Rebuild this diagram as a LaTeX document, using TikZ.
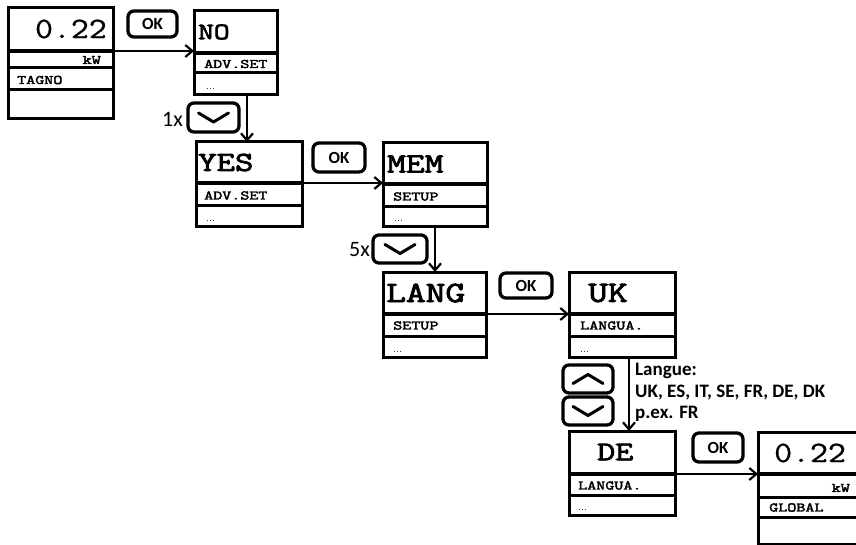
\documentclass[tikz,border=0pt]{standalone}
\usepackage{fontspec}
\usetikzlibrary{arrows.meta}
\newfontfamily\monob[FakeStretch=1.3,FakeBold=3]{Latin Modern Mono}
\newfontfamily\monos[FakeStretch=1.35,FakeBold=3]{Latin Modern Mono}
\newfontfamily\monor[FakeStretch=1.18,FakeBold=1]{Latin Modern Mono}
\newfontfamily\carl{Carlito}
\newfontfamily\carlb{Carlito Bold}
\newcommand\fsz[1]{\fontsize{#1}{#1}\selectfont}
\tikzset{
  cell/.style={draw, line width=3pt, anchor=north west, inner sep=0pt, outer sep=0pt},
  small/.style={anchor=west, inner sep=0pt, font=\monos\fsz{13}},
  dots/.style={anchor=base west, inner sep=0pt, font=\fsz{11}},
  ttl/.style={anchor=west, inner sep=0pt},
  big/.style={inner sep=0pt, font=\monor\fsz{29.5}},
  btn/.style={draw, line width=3.3pt, rounded corners=6pt, inner sep=0pt, outer sep=0pt},
  oktxt/.style={font=\carlb\fsz{17}},
  chev/.style={line width=3pt, line cap=round, line join=round},
  arr/.style={line width=2.2pt, -{Straight Barb[length=7pt,width=12pt,line width=2.2pt]}},
  sep/.style={line width=4.5pt},
}
\begin{document}
\begin{tikzpicture}[x=1pt,y=-1pt]
\useasboundingbox (0,0) rectangle (856,545);
% ---- box 1
\node[cell, minimum width=105pt, minimum height=43pt] (d1a) at (8,8) {};
\node[cell, minimum width=105pt, minimum height=17pt] (d1b) at (8,51) {};
\node[cell, minimum width=105pt, minimum height=22pt] (d1c) at (8,68) {};
\node[cell, minimum width=105pt, minimum height=29pt] (d1d) at (8,90) {};
\draw[sep] (d1a.south west) -- (d1a.south east);
\node[big, anchor=east] (d1v) at (107,29) {0.22};
\node[small, anchor=east] (d1u) at (101,60) {kW};
\node[small] (d1t) at (17,80) {TAGNO};
% ---- NO
\node[cell, minimum width=83pt, minimum height=42pt] (noa) at (194,11) {};
\node[cell, minimum width=83pt, minimum height=20pt] (nob) at (194,53) {};
\node[cell, minimum width=83pt, minimum height=22pt] (noc) at (194,73) {};
\draw[sep] (noa.south west) -- (noa.south east);
\node[ttl, font=\monob\fsz{23.5}] (not) at (198,32) {NO};
\node[small] (nos) at (204,64) {ADV.SET};
\node[dots] (nod) at (206,90) {...};
% ---- YES
\node[cell, minimum width=106pt, minimum height=41pt] (yesa) at (196,142) {};
\node[cell, minimum width=106pt, minimum height=23pt] (yesb) at (196,183) {};
\node[cell, minimum width=106pt, minimum height=21pt] (yesc) at (196,206) {};
\draw[sep] (yesa.south west) -- (yesa.south east);
\node[ttl, font=\monob\fsz{27.5}] (yest) at (198,162.5) {YES};
\node[small] (yess) at (204,195.5) {ADV.SET};
\node[dots] (yesd) at (206,222) {...};
% ---- MEM
\node[cell, minimum width=104pt, minimum height=41pt] (mema) at (383,143) {};
\node[cell, minimum width=104pt, minimum height=23pt] (memb) at (383,184) {};
\node[cell, minimum width=104pt, minimum height=20pt] (memc) at (383,207) {};
\draw[sep] (mema.south west) -- (mema.south east);
\node[ttl, font=\monob\fsz{28}] (memt) at (387,164) {MEM};
\node[small] (mems) at (393,196.5) {SETUP};
\node[dots] (memd) at (394,222) {...};
% ---- LANG
\node[cell, minimum width=103pt, minimum height=42pt] (langa) at (383,272) {};
\node[cell, minimum width=103pt, minimum height=22pt] (langb) at (383,314) {};
\node[cell, minimum width=103pt, minimum height=21pt] (langc) at (383,336) {};
\draw[sep] (langa.south west) -- (langa.south east);
\node[ttl, font=\monob\fsz{29.5}] (langt) at (386,293) {LANG};
\node[small] (langs) at (393,325.5) {SETUP};
\node[dots] (langd) at (393,352) {...};
% ---- UK
\node[cell, minimum width=106pt, minimum height=42pt] (uka) at (569,272) {};
\node[cell, minimum width=106pt, minimum height=22pt] (ukb) at (569,314) {};
\node[cell, minimum width=106pt, minimum height=21pt] (ukc) at (569,336) {};
\draw[sep] (uka.south west) -- (uka.south east);
\node[ttl, font=\monob\fsz{29.5}] (ukt) at (588,293) {UK};
\node[small] (uks) at (580,325.5) {LANGUA.};
\node[dots] (ukd) at (580,352) {...};
% ---- DE
\node[cell, minimum width=106pt, minimum height=43pt] (dea) at (569,431) {};
\node[cell, minimum width=106pt, minimum height=21pt] (deb) at (569,474) {};
\node[cell, minimum width=106pt, minimum height=20pt] (dec) at (569,495) {};
\draw[sep] (dea.south west) -- (dea.south east);
\node[ttl, font=\monob\fsz{27}] (det) at (597,452) {DE};
\node[small] (des) at (578,485.5) {LANGUA.};
\node[dots] (ded) at (578,510) {...};
% ---- final display
\node[cell, minimum width=150pt, minimum height=42pt] (fa) at (758,432) {};
\node[cell, minimum width=150pt, minimum height=23pt] (fb) at (758,474) {};
\node[cell, minimum width=150pt, minimum height=20pt] (fc) at (758,497) {};
\node[cell, minimum width=150pt, minimum height=27pt] (fd) at (758,517) {};
\draw[sep] (fa.south west) -- (fa.south east);
\node[big, anchor=west] (fv) at (774,453) {0.22};
\node[small, anchor=east] (fu) at (850,488) {kW};
\node[small] (ft) at (769,507.5) {GLOBAL};
% ---- OK buttons
\node[btn, minimum width=49pt, minimum height=26pt] (ok1) at (152.5,24) {};
\node[oktxt] (ok1t) at (ok1.center) {OK};
\node[btn, minimum width=52pt, minimum height=29pt] (ok2) at (339,157.5) {};
\node[oktxt] (ok2t) at (ok2.center) {OK};
\node[btn, minimum width=52pt, minimum height=25pt] (ok3) at (526,285.5) {};
\node[oktxt] (ok3t) at (ok3.center) {OK};
\node[btn, minimum width=50pt, minimum height=29pt] (ok4) at (718,447.5) {};
\node[oktxt] (ok4t) at (ok4.center) {OK};
% ---- arrow buttons
\node[btn, minimum width=51pt, minimum height=29pt] (dn1) at (213.5,117.5) {};
\draw[chev] ([xshift=-15pt,yshift=4.5pt]dn1.center) -- ([yshift=-4.5pt]dn1.center) -- ([xshift=15pt,yshift=4.5pt]dn1.center);
\node[anchor=east, inner sep=0pt, font=\carl\fsz{22}] (x1) at (183,119) {1x};
\node[btn, minimum width=54pt, minimum height=28pt] (dn5) at (400,249) {};
\draw[chev] ([xshift=-15pt,yshift=4.5pt]dn5.center) -- ([yshift=-4.5pt]dn5.center) -- ([xshift=15pt,yshift=4.5pt]dn5.center);
\node[anchor=east, inner sep=0pt, font=\carl\fsz{22}] (x5) at (370,250) {5x};
\node[btn, minimum width=50pt, minimum height=28pt] (up) at (588,379) {};
\draw[chev] ([xshift=-15pt,yshift=-4.5pt]up.center) -- ([yshift=4.5pt]up.center) -- ([xshift=15pt,yshift=-4.5pt]up.center);
\node[btn, minimum width=50pt, minimum height=28pt] (dn) at (588,411) {};
\draw[chev] ([xshift=-15pt,yshift=4.5pt]dn.center) -- ([yshift=-4.5pt]dn.center) -- ([xshift=15pt,yshift=4.5pt]dn.center);
% ---- text
\node[anchor=north west, align=left, inner sep=0pt, font=\carlb\fontsize{19}{21.5}\selectfont] (lg) at (635,363) {Langue:\\UK, ES, IT, SE, FR, DE, DK\\p.ex. FR};
% ---- connectors
\draw[arr] (d1a.south east) -- (d1a.south east -| noa.west);
\draw[arr] ([xshift=53pt]noc.south west) -- ([xshift=53pt]noc.south west |- yesa.north);
\draw[arr] (yesa.south east) -- (yesa.south east -| mema.west);
\draw[arr] ([xshift=52pt]memc.south west) -- ([xshift=52pt]memc.south west |- langa.north);
\draw[arr] (langa.south east) -- (langa.south east -| uka.west);
\draw[arr] ([xshift=60pt]ukc.south west) -- ([xshift=60pt]ukc.south west |- dea.north);
\draw[arr] (dea.south east) -- (dea.south east -| fa.west);
\end{tikzpicture}
\end{document}
